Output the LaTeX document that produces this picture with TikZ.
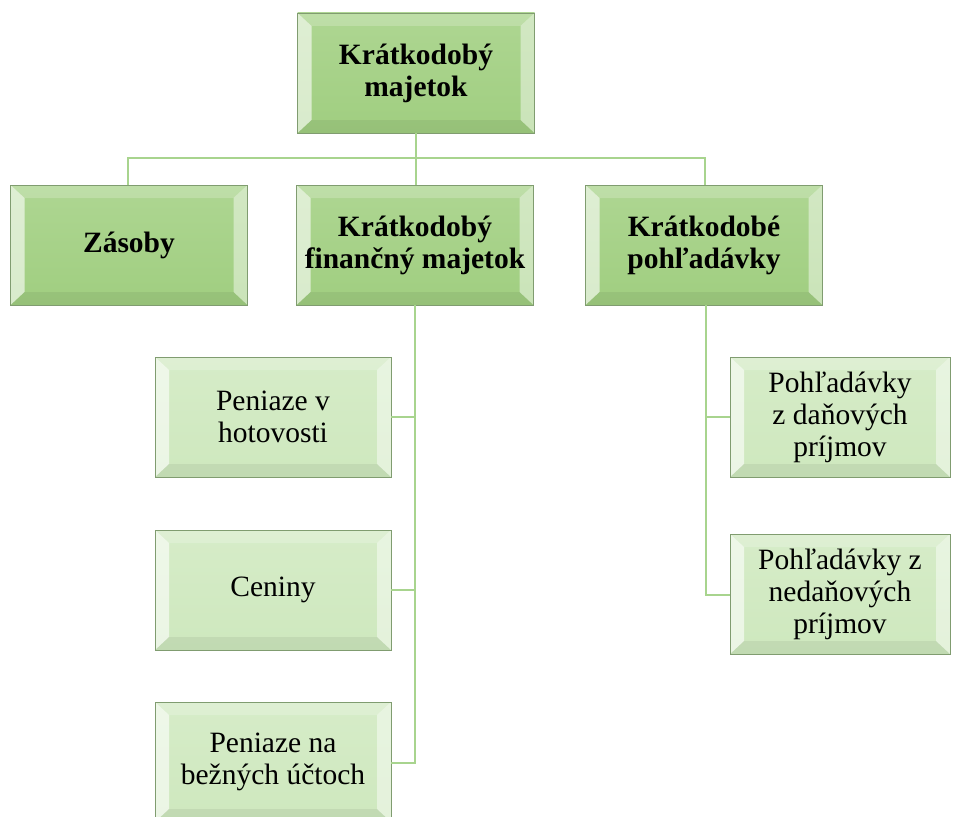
\documentclass[tikz,border=0pt]{standalone}
\usepackage{fontspec}
\setmainfont{Liberation Serif}
\usetikzlibrary{calc}
\definecolor{darkface}{RGB}{160,206,128}
\definecolor{darktop}{RGB}{174,214,146}
\definecolor{lightface}{RGB}{206,232,190}
\definecolor{lighttop}{RGB}{214,236,200}
\definecolor{boxedge}{RGB}{128,156,112}
\definecolor{linkcol}{RGB}{168,212,142}
\tikzset{
  bevelpic/.style={path picture={
    \coordinate (bnw) at (path picture bounding box.north west);
    \coordinate (bne) at (path picture bounding box.north east);
    \coordinate (bse) at (path picture bounding box.south east);
    \coordinate (bsw) at (path picture bounding box.south west);
    \coordinate (inw) at ($(bnw)+(14pt,-13pt)$);
    \coordinate (ine) at ($(bne)+(-14pt,-13pt)$);
    \coordinate (ise) at ($(bse)+(-14pt,13pt)$);
    \coordinate (isw) at ($(bsw)+(14pt,13pt)$);
    \fill[white,opacity=0.2] (bnw)--(bne)--(ine)--(inw)--cycle;
    \fill[white,opacity=0.6] (bnw)--(inw)--(isw)--(bsw)--cycle;
    \fill[white,opacity=0.45] (bne)--(ine)--(ise)--(bse)--cycle;
    \fill[black,opacity=0.06] (bsw)--(isw)--(ise)--(bse)--cycle;
  }},
  darkbox/.style={bevelpic, draw=boxedge, line width=0.8pt,
    top color=darktop, bottom color=darkface,
    minimum width=237pt, minimum height=120pt, inner sep=0pt,
    align=center, font=\fontsize{29.5}{32}\selectfont\bfseries},
  lightbox/.style={bevelpic, draw=boxedge, line width=0.8pt,
    top color=lighttop, bottom color=lightface,
    minimum width=236pt, minimum height=120pt, inner sep=0pt,
    align=center, font=\fontsize{29.5}{32}\selectfont},
  link/.style={draw=linkcol, line width=2.6pt}
}
\begin{document}
\begin{tikzpicture}[x=1pt,y=-1pt]
\useasboundingbox (0,0) rectangle (955,816);
\coordinate (hL) at (128,158);
\coordinate (hR) at (705,158);
\coordinate (hM) at (416,158);
\coordinate (v1) at (415,417);
\coordinate (v2) at (415,590);
\coordinate (v3) at (415,763);
\coordinate (r1) at (706,417);
\coordinate (r2) at (706,595);
% nodes
\node[darkbox] (root) at (416,73) {Krátkodobý\\majetok};
\node[darkbox] (zas) at (129,245) {Zásoby};
\node[darkbox] (kfm) at (415,245) {Krátkodobý\\finančný majetok};
\node[darkbox] (kp) at (704,245) {Krátkodobé\\pohľadávky};
\node[lightbox] (p1) at (273,417) {Peniaze v\\hotovosti};
\node[lightbox] (p2) at (273,590) {Ceniny};
\node[lightbox] (p3) at (273,762) {Peniaze na\\bežných účtoch};
\node[lightbox,minimum width=220pt] (q1) at (840,417) {Pohľadávky\\z daňových\\príjmov};
\node[lightbox,minimum width=220pt] (q2) at (840,594) {Pohľadávky z\\nedaňových\\príjmov};
% links
\draw[link] (root.south -| hM) -- (hM);
\draw[link] (zas.north -| hL) -- (hL) -- (hR) -- (kp.north -| hR);
\draw[link] (hM) -- (kfm.north -| hM);
\draw[link] (kfm.south -| v1) -- (v3) -- (p3.east |- v3);
\draw[link] (v1) -- (p1.east |- v1);
\draw[link] (v2) -- (p2.east |- v2);
\draw[link] (kp.south -| r1) -- (r2) -- (q2.west |- r2);
\draw[link] (r1) -- (q1.west |- r1);
\end{tikzpicture}
\end{document}
